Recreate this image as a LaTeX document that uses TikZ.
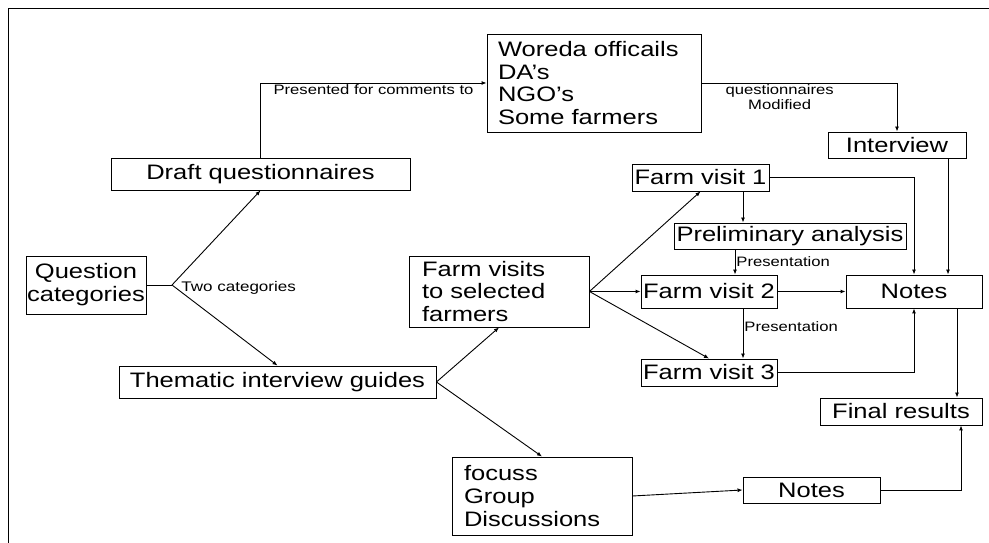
\documentclass[tikz,border=0pt]{standalone}
\usepackage{fontspec}
\setmainfont{Liberation Sans}[FakeStretch=1.22]
\usetikzlibrary{arrows.meta}
\tikzset{
  box/.style={draw,inner sep=0pt,align=center,font=\fontsize{21}{23}\selectfont},
  lbl/.style={inner sep=1bp,font=\fontsize{13.7}{15.5}\selectfont},
  smalllbl/.style={inner sep=1bp,font=\fontsize{14}{16}\selectfont}
}

\begin{document}
\begin{tikzpicture}[x=1bp,y=1bp,line width=0.9bp,>={Latex[length=5bp,width=4bp]}]
\useasboundingbox (0,0) rectangle (989,543);
\draw (8,0) -- (8,535) -- (989,535);

\node[box,minimum width=120bp,minimum height=58bp] (quest) at (86,258) {Question\\categories};
\node[box,minimum width=299bp,minimum height=32bp] (draft) at (260.5,369) {Draft questionnaires};
\node[box,minimum width=317bp,minimum height=32bp] (theme) at (277.5,161) {Thematic interview guides};
\node[box,align=left,text width=192bp,inner xsep=11bp,minimum height=98bp] (woreda) at (594,460)
  {Woreda officails\\DA’s\\NGO’s\\Some farmers};
\node[box,minimum width=138bp,minimum height=26bp] (interview) at (897,398) {Interview};
\node[box,align=left,text width=154bp,inner xsep=13bp,minimum height=71bp] (visits) at (499,251.5)
  {Farm visits\\to selected\\farmers};
\node[box,align=left,text width=156bp,inner xsep=12bp,minimum height=78bp] (focus) at (542,47)
  {focuss\\Group\\Discussions};
\node[box,minimum width=137bp,minimum height=27bp] (fv1) at (700.5,365.5) {Farm visit 1};
\node[box,minimum width=232bp,minimum height=26bp] (prelim) at (790,307) {Preliminary analysis};
\node[box,minimum width=136bp,minimum height=33bp] (fv2) at (709,251.5) {Farm visit 2};
\node[box,minimum width=136bp,minimum height=27bp] (fv3) at (709,170.5) {Farm visit 3};
\node[box,minimum width=136bp,minimum height=33bp] (notesA) at (914,251.5) {Notes};
\node[box,minimum width=162bp,minimum height=27bp] (final) at (901,131.5) {Final results};
\node[box,minimum width=137bp,minimum height=26bp] (notesB) at (811.5,53) {Notes};

\coordinate (branch) at (172,258);
\draw (quest.east) -- (branch);
\node[smalllbl,anchor=west] (twocat) at (180,255) {Two categories};
\draw[->] (branch) -- (draft.south);
\draw[->] (branch) -- (theme.north);

\draw[->] (draft.north) |- node[lbl,below,pos=0.75] {Presented for comments to} (woreda.west);
\draw[->] (woreda.east) -| node[lbl,below,pos=0.2,align=center] {questionnaires\\Modified} (interview.north);

\draw[->] (theme.east) -- (visits.south);
\draw[->] (theme.east) -- (focus.north);
\draw[->] (visits.east) -- (fv1.south);
\draw[->] (visits.east) -- (fv2.west);
\draw[->] (visits.east) -- (fv3.north);

\draw[->] ([xshift=42.5bp]fv1.south) -- ([xshift=42.5bp]fv1.south |- prelim.north);
\draw[->] ([xshift=26bp]fv2.north |- prelim.south) -- node[lbl,right] {Presentation} ([xshift=26bp]fv2.north);
\draw[->] ([xshift=34bp]fv2.south) -- node[lbl,right,pos=0.37] {Presentation} ([xshift=34bp]fv3.north);

\draw[->] (fv1.east) -| (notesA.north);
\draw[->] ([xshift=34bp]notesA.north |- interview.south) -- ([xshift=34bp]notesA.north);
\draw[->] (fv2.east) -- (notesA.west);
\draw[->] (fv3.east) -| (notesA.south);
\draw[->] ([xshift=43bp]notesA.south) -- ([xshift=43bp]notesA.south |- final.north);

\draw[->] (focus.east) -- (notesB.west);
\draw[->] (notesB.east) -| ([xshift=60bp]final.south);
\end{tikzpicture}
\end{document}
